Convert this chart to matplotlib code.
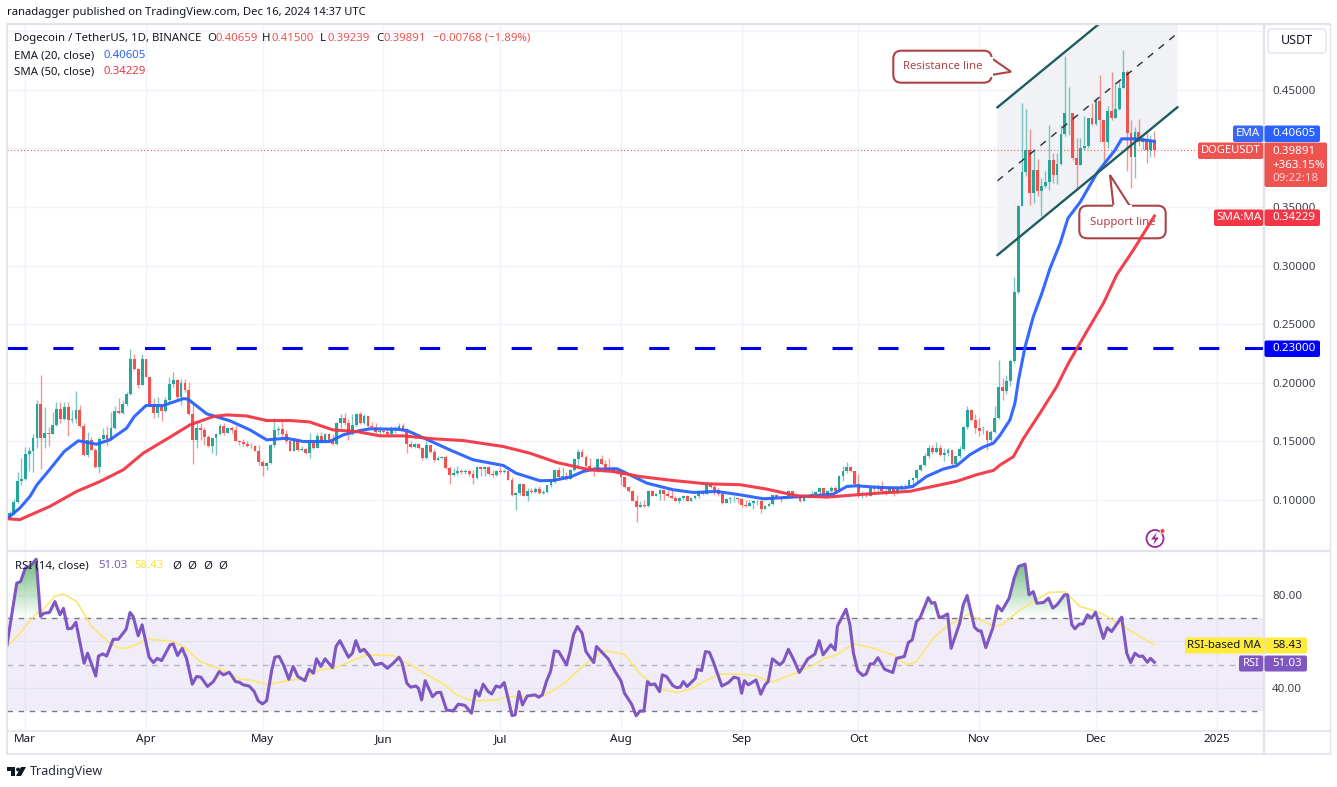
import numpy as np
import matplotlib
matplotlib.use('Agg')
import matplotlib.pyplot as plt
from matplotlib.patches import FancyBboxPatch, Polygon, Circle
from matplotlib.path import Path

W, H = 1337, 787
plt.rcParams['font.family'] = ['Noto Sans', 'DejaVu Sans']

# ---- daily candles, first candle is 26 Feb 2024 (day -4 counted from 1 Mar) ----
first_open = 0.0840
closes = [
.0888,.098,.1158,.1178,.1394,.142,.1533,.182,.1527,.157,.156,.164,.178,.169,.179,.1683,.169,.177,.1627,.138,.1512,.143,.128,.152,.1555,.152,.161,.176,.1745,.182,.1905,.2203,.2118,.198,.2203,.2047,.181,.1746,.179,.176,.185,.199,.2024,.1877,.1996,.194,.1735,.1513,.1612,.160,.154,.146,.1527,.156,.1627,.1575,.1612,.160,.1505,.1495,.148,.1462,.1458,.142,.1328,.129,.1315,.147,.160,.1605,.156,.150,.1422,.1513,.143,
.1435,.1399,.1485,.1442,.155,.149,.156,.1513,.1479,.1655,.1698,.1655,.157,.164,.1735,.1655,.1717,.1627,.162,.1584,.159,.1584,.156,.160,.1612,.1632,.159,.1476,.145,.1479,.144,.1357,.1471,.1408,.1337,.1362,.137,.1272,.1215,.1232,.1249,.1235,.1248,.1225,.1186,.128,.1263,.128,.1225,.1215,.1243,.1235,.1248,.1172,.1039,.1059,.1138,.1036,.1073,.1067,.1093,.106,.107,.1124,.115,.1252,.1195,.1205,.118,.1257,.135,.1413,.137,.129,
.1257,.1243,.1351,.1309,.1272,.1262,.1243,.1229,.1195,.111,.1078,.0993,.0939,.0959,.0945,.1073,.1036,.105,.1081,.1053,.1036,.1016,.0993,.1016,.1036,.0993,.1016,.1036,.1064,.105,.1138,.111,.1087,.1053,.0973,.1007,.1016,.1016,.1007,.0955,.0945,.0975,.0988,.0988,.0925,.095,.0968,.1042,.1024,.1016,.103,.1073,.1044,.103,.0993,.1024,.1036,.1053,.1064,.1101,.1053,.1078,.1101,.1073,.1206,.1243,.128,.1243,.1135,.103,.1036,.1033,
.1102,.1093,.1116,.1074,.1059,.1102,.1059,.1110,.1116,.1118,.1173,.1187,.1258,.1301,.1372,.1443,.1406,.1443,.1386,.14,.1429,.1306,.1372,.1437,.1619,.1764,.1679,.1613,.1585,.1588,.1508,.1579,.1698,.1963,.1926,.2017,.2187,.2778,
.3511,.3798,.3983,.3619,.3818,.3633,.3676,.371,.3903,.3775,.3869,.4122,.4301,.4305,.3917,.386,.4003,.402,.4258,.421,.4406,.4244,.4059,.4323,.4258,.4335,.4514,.4656,.4136,.393,.4139,.4059,.4079,.3985,.40659,.39891]
highs = [
.0902,.1007,.1238,.1357,.1456,.1456,.1564,.1854,.2067,.1797,.1621,.1754,.184,.1834,.1834,.1834,.1769,.193,.1808,.1655,.1584,.1536,.1442,.1541,.1612,.1627,.1749,.1805,.1868,.1854,.1925,.2288,.2246,.2124,.2246,.2203,.2047,.1868,.1877,.1811,.1882,.2053,.2095,.2033,.2030,.2030,.201,.1825,.1655,.1655,.1621,.1556,.1533,.157,.165,.1655,.1621,.1632,.1641,.1513,.1519,.15,.149,.147,.147,.1343,.1323,.1479,.1698,.1632,.1683,.1593,.1513,.1527,.1527,
.1462,.1442,.157,.1499,.157,.1584,.157,.157,.1564,.1663,.1735,.174,.169,.1735,.174,.1754,.1735,.1703,.1663,.1661,.1632,.1612,.1612,.1632,.1627,.1655,.1661,.1612,.1499,.149,.1485,.1456,.1499,.147,.1433,.1377,.1379,.1382,.1291,.1272,.1286,.1266,.1263,.1257,.1257,.1291,.1291,.1291,.1291,.1252,.1257,.128,.1263,.1257,.1195,.1064,.1144,.1138,.1101,.1101,.111,.1115,.1087,.113,.1172,.1257,.128,.128,.1235,.1263,.1362,.1436,.1433,.1385,
.1357,.1286,.1357,.1385,.1343,.1357,.1291,.1263,.1229,.12,.1121,.1087,.1039,.0988,.1002,.1081,.1087,.1059,.1093,.1073,.1087,.1087,.103,.1024,.1044,.1044,.1016,.1044,.1073,.1073,.1166,.1132,.1130,.1101,.1064,.1016,.1024,.103,.1016,.1016,.1002,.1002,.0996,.0996,.1002,.0959,.0979,.1047,.1047,.1036,.1036,.1081,.1064,.1059,.1044,.103,.1044,.1073,.1073,.1110,.1101,.1087,.1115,.1115,.1215,.1291,.1320,.1291,.1243,.1223,.1073,.1059,
.1116,.1130,.1139,.1159,.111,.1122,.1093,.1122,.113,.1139,.1179,.1196,.1264,.1309,.14,.1471,.1471,.1491,.1471,.1443,.1443,.1429,.1377,.1463,.1627,.1798,.1775,.1735,.1698,.1633,.1599,.1599,.1798,.2195,.2039,.2068,.2201,.2900,
.3515,.4386,.4335,.4164,.3983,.3909,.3747,.3804,.4201,.396,.396,.4201,.4789,.4528,.4301,.4088,.4088,.4281,.4258,.4386,.4429,.4627,.4244,.4358,.465,.4571,.4585,.484,.467,.4244,.4187,.425,.4096,.413,.4116,.41500]
lows = [
.084,.0874,.0973,.113,.1167,.1243,.1238,.1442,.1263,.1442,.1462,.157,.1627,.1655,.1683,.1547,.1655,.1655,.1621,.1377,.1365,.1428,.1272,.1229,.1513,.1462,.1513,.1607,.1735,.1735,.1805,.1896,.2109,.1953,.1982,.2047,.1811,.1703,.1706,.1678,.1754,.1840,.1967,.186,.1811,.1925,.1726,.1306,.1442,.1513,.147,.145,.14,.1385,.1556,.1556,.157,.157,.15,.147,.1462,.1456,.1442,.1414,.13,.1206,.1252,.1309,.1456,.1556,.1541,.149,.1422,.142,.1422,
.1422,.1391,.1357,.1433,.1442,.1485,.1485,.1507,.147,.147,.1612,.1641,.1513,.1556,.1627,.1646,.1646,.1621,.1612,.1564,.1556,.1575,.1556,.1556,.1575,.1598,.1584,.1399,.1442,.1442,.1433,.1337,.1348,.1399,.132,.1343,.1348,.1263,.1135,.1206,.1215,.1223,.1223,.1206,.1135,.1178,.1206,.1206,.1215,.12,.1206,.1223,.1229,.1167,.1036,.0917,.1044,.103,.0993,.1059,.1059,.1053,.105,.1059,.111,.1144,.1186,.1184,.1172,.1178,.1243,.1272,.1365,.128,
.1252,.1201,.1238,.1300,.1257,.1243,.1235,.1223,.1130,.1101,.1067,.0988,.0809,.0939,.0939,.0939,.103,.103,.0996,.0996,.1024,.1007,.0988,.0973,.0996,.0988,.0988,.1007,.1016,.1042,.1047,.1098,.1044,.1036,.0968,.0973,.0973,.0979,.0973,.0939,.0937,.0962,.0922,.0959,.0888,.0922,.0945,.0956,.1013,.0985,.1013,.1019,.1036,.1016,.0985,.0988,.1013,.1024,.103,.1036,.1044,.1044,.1064,.1064,.1073,.1166,.1229,.1235,.1130,.1024,.1016,.1024,
.1037,.1074,.1074,.1059,.1045,.1059,.1031,.1054,.1093,.1093,.1102,.111,.1165,.1244,.1287,.1358,.1395,.14,.1372,.133,.1377,.1281,.1301,.1358,.1429,.1608,.167,.157,.1542,.1565,.1423,.1485,.157,.169,.1855,.1906,.1974,.2173,
.2760,.3506,.3761,.3520,.3534,.3591,.342,.3662,.3648,.3704,.3699,.3861,.4108,.4116,.3903,.3648,.3861,.3988,.4003,.4201,.4201,.4059,.3875,.4003,.4244,.4258,.4329,.4514,.3804,.3662,.3747,.4017,.3988,.3875,.3926,.39239]

# ---- moving averages ----
ema_days = [-4.7,-1.4,1.2,3,6,10,13.6,18.3,21.7,26,28,31,35.4,40.6,41.8,46.6,52.6,57.7,62,67,71.4,78.2,81.7,86,88.5,95.4,98,103,109,115,122.8,126,132.2,135.6,139.9,143.3,146,152,156.2,159.6,166.4,171.6,177.6,183.6,189.6,197,202.4,207.5,211,213.5,219.5,225.5,228,231.5,235.8,239.2,242.6,246,248.7,250.4,252.9,254.2,255.1,256.8,258.9,261.1,263.2,265.8,267.8,271,275.2,279.9,281.6,285.4,290]
ema_vals = [.084,.0931,.103,.113,.1249,.1414,.1505,.1476,.1513,.1612,.1712,.1806,.1806,.1865,.186,.1735,.1675,.1598,.1513,.1527,.1499,.1499,.1556,.1593,.1607,.1604,.1593,.1519,.1428,.1343,.1294,.1229,.1164,.1167,.1195,.1243,.1263,.1266,.12,.1144,.1087,.1064,.1073,.1044,.101,.1024,.1036,.105,.1115,.1121,.1107,.1102,.1116,.1201,.1264,.1292,.1386,.1451,.1485,.1555,.1683,.1828,.2024,.2308,.2564,.2764,.2977,.319,.3404,.3545,.3788,.3986,.4082,.4082,.40605]
sma_days = [-4.7,-1.4,2.05,6.3,13.2,19.2,25.2,30.3,36.3,42.3,48.3,51.7,56.8,62,68,73,79,85.1,91.1,97,104.8,112.5,122.8,129.6,136.5,145,151,157.9,166.4,175,183.6,190.4,198.1,205.8,213.5,219.5,227.2,234,239.2,244.4,248.7,250.4,253.8,256.4,260.6,264.9,267.9,272.6,276.9,280.3,284.6,290]
sma_vals = [.084,.0832,.0883,.0945,.1073,.1158,.1258,.14,.1519,.1641,.1712,.1726,.1717,.1678,.1678,.1666,.1598,.1584,.1547,.1547,.1522,.1507,.1456,.1399,.132,.1257,.1243,.12,.1166,.1138,.113,.1093,.1036,.1024,.1044,.1059,.1074,.1122,.1159,.1216,.1253,.1299,.137,.1526,.174,.1967,.2166,.2436,.2678,.292,.3133,.34229]

# ---- RSI and its moving average ----
rsi_days = [-4.7,-2.2,-1.2,0,1.2,2.8,3.9,4.8,6.2,7.6,8.9,9.8,10.9,11.9,13,15.1,16,18.1,18.8,19.9,20.9,22.6,23.9,25.9,26.9,27.7,29,30,31.8,32.9,33.9,35,37.2,38,39.1,40.3,41.4,42.9,44,45.1,46.8,48.3,49.8,50.9,52.4,54,55,56,57.5,58.8,59.8,60.9,62,63.3,64.1,65.2,66.3,67.7,68.8,70,71.8,72.9,74,74.8,75.9,77,78.9,79.8,80.8,83,84,84.9,86,87,88.5,89.8,91.5,93,94.5,96,96.8,98,99,100.3,101,101.8,102.7,104.6,105.7,106.7,108.2,109.9,111.2,112.9,114.6,115.7,116.6,117.6,118.9,119.8,120.9,122,123,124,125,125.8,126.8,127.7,128.9,130.9,131.9,132.8,133.9,134.9,135.9,137,139,139.9,140.8,141.8,143,144,146,146.7,148.5,149.7,151.5,153,153.9,155.7,156.9,157.9,158.9,159.8,160.6,161.7,162.9,163.6,164.7,166.3,167.3,168.2,169,170,172.1,172.6,173.7,174.7,175.7,176.7,178.9,180.6,182,183.2,184,184.7,185.7,187.7,188.9,190,190.8,191.9,193.8,194.7,196,197.4,198.8,199.8,201,202.8,203.9,204.9,206.9,208,208.6,210.8,211.8,212.7,213.8,215.1,216,217,217.9,219,220.7,222.8,223.8,225.8,226.8,227.8,228.9,229.8,231.9,232.8,233.6,234.7,235.8,236.9,237.8,240,240.9,241.9,243.8,244.8,245.5,246.7,248.5,249.7,250.8,252.7,254,255.1,256.8,257.8,258.9,259.8,261.5,262.8,263.9,265,266.9,267.7,268.8,269.6,270.7,271.7,272.8,273.9,274.9,276.9,277.9,279,281.6,282.9,283.9,285,286.1,287,288.2,289,290]
rsi_vals = [58.5,85,85.7,91.5,92.2,95.3,70.7,72.1,72.4,77.1,71.4,74.2,65.4,65.6,68.2,50.6,54.9,45.1,53.7,54.6,53.7,60.9,60.9,65.2,72.4,70.7,62.4,67.1,53.2,50.9,52.7,51.7,58.5,58.9,53.9,57,52.7,41.6,44.9,44.6,40.6,42.7,47,45.6,46.7,42.7,42.4,41.3,40.8,38.4,34.5,33.1,34.5,47.7,53.2,53.5,49.9,43.7,49.2,44.9,43.1,48,46.3,52.5,49.2,52.5,48.7,57.8,60.3,53.2,54.9,60.3,55.6,56.6,53.5,49.9,50.6,48.4,50.6,53.2,50.6,42,40.3,40.8,39.8,34.8,43.1,36.2,38,38.1,30.5,30.1,33,32.5,29.1,38.9,36.5,41.6,38.4,37.4,40.8,40.3,42.3,35.5,28.1,28.4,38.4,32.7,36.5,37,36,37,43,47,55.9,55.6,49.9,55.6,62.8,66.4,63.5,55.6,50.9,57.8,54.6,52.5,47,43,37.7,33.1,28,30.1,30,42.7,41.3,41.7,38.4,45.6,44.9,41,40.1,40.3,42.7,40.6,44.1,48,47.4,55.6,55.3,51.3,40.8,42.3,44.6,44.1,37.7,43.1,41.3,43.4,37.3,41.3,42.7,52.5,49.9,51.3,56.6,52,46.6,49.2,52.5,54.5,60.3,54.2,58.5,56.3,66.6,73.8,67.1,54.9,47.4,45.3,46,50.3,50.3,53,48,46.6,52.7,53.5,59.5,60.6,68.5,70,78.8,76.4,76.7,70.2,70.7,71.8,57,67.8,75.7,79.7,66.1,64.5,64.5,57.3,65.7,75.3,73.1,78.6,87.2,92.2,93.2,80,81.4,76.4,76.7,78.6,74.3,75.7,80,80,67.1,65.4,67.4,67.5,71.4,70,72.5,61.3,65.9,64.2,70.4,54.9,50.9,54.9,53.5,53.7,51,52.7,51.03]
rsi_ma_days = [-4.7,-1.4,2.5,4.6,7.6,9.8,13.2,17,21.7,24.3,26.5,31.6,38,40.6,44.9,51.7,55.1,58.6,62.4,66.3,71.4,75.7,79.1,83.4,87.7,94.5,99.7,104.8,108,110.8,115.1,121,123.6,127,133,136.5,139,143.5,148.6,153.7,157.9,162.3,167.5,170.9,174.3,178.2,182.8,188,191.4,197.3,202.4,205,208.4,212.7,217.9,222.9,226.4,228.9,233.2,236.7,240,242.2,245.2,248.7,250.8,255.5,262.8,267.1,270.9,274.8,277.8,282,286.3,290]
rsi_ma_vals = [57.8,63.5,71.4,73.8,79.3,80.4,77.1,66.4,59.2,57,57.3,61,59.9,57.8,51.3,47,43.8,43.1,41.3,42.7,44.1,47.7,48.4,51.3,54.2,53.9,49.2,44.1,41,37,34.4,34.8,36.2,36.2,36.5,39.8,42.7,49.9,56,54.6,46.3,39.8,38,39.6,42.7,45.9,45.9,45.1,42.3,46,49.6,52.5,54.2,58.9,57,54.2,49.9,51.3,61.3,66.6,69.2,71.8,69.2,66.6,67.1,73.5,81,81.3,75,73.1,70.7,66.4,62.1,58.43]

# ---- axis labels and levels ----
month_days = [0,31,61,92,122,153,184,214,245,275,306]
month_labels = ['Mar','Apr','May','Jun','Jul','Aug','Sep','Oct','Nov','Dec','2025']
price_ticks = [0.10,0.15,0.20,0.25,0.30,0.35,0.45]
price_grid = [0.10,0.15,0.20,0.25,0.30,0.35,0.40,0.45,0.50]
key_level = 0.23
last_close = 0.39891

for n, a in (('highs', highs), ('lows', lows)):
    if len(a) != len(closes):
        raise ValueError(f'{n} {len(a)} vs closes {len(closes)}')

UP, DOWN = '#26a69a', '#ef5350'
GRID = '#f0f3fa'
BORDER = '#e0e3eb'
TXT = '#131722'

fig = plt.figure(figsize=(W/100, H/100), dpi=100, facecolor='white')

def pane(x0, y0, x1, y1, **kw):
    return fig.add_axes([x0/W, 1-y1/H, (x1-x0)/W, (y1-y0)/H], **kw)

ax = pane(7, 24, 1263, 550)
ar = pane(7, 552, 1263, 730)
XL = (-4.7, 317.9)

c = np.array(closes)
o = np.r_[first_open, c[:-1]]
h = np.maximum(np.maximum(highs, o), c)
l = np.minimum(np.minimum(lows, o), c)
days = np.arange(len(c)) - 4
cols = np.where(c >= o, UP, DOWN)

ax.set_xlim(*XL)
ax.set_ylim(0.0573, 0.5062)
ar.set_xlim(*XL)
ar.set_ylim(21.9, 98.4)

for a in (ax, ar):
    a.set_axisbelow(True)
    for s in a.spines.values():
        s.set_visible(False)
    a.set_xticks(month_days)
    a.grid(True, color=GRID, lw=1)
    a.yaxis.tick_right()
    a.tick_params(length=0, colors='#3b3f4a', labelsize=8.3)

ax.set_yticks(price_grid)
ax.set_yticklabels([f'{v:.5f}' if v in price_ticks else '' for v in price_grid])
ax.tick_params(axis='y', pad=6.5)
ax.set_xticklabels([])

# channel (drawn under the candles)
chan_x = [249.7, 295.9]
ax.fill([249.7, 249.7, 275.6, 295.9, 295.9], [.309, .4351, .5062, .5062, .4351],
        color='#f0f2f5', lw=0, zorder=1)

ax.vlines(days, l, h, colors=cols, lw=1.0, alpha=0.6, zorder=2)
ax.bar(days, c-o, bottom=o, width=0.72, color=cols, lw=0, zorder=3)

ax.plot(ema_days, ema_vals, color='#2962ff', lw=2.2, alpha=.95, zorder=5, solid_joinstyle='round')
ax.plot(sma_days, sma_vals, color='#f23645', lw=2.2, alpha=.95, zorder=5, solid_joinstyle='round')

ax.plot(XL, [key_level]*2, color='#0000f0', lw=2.2, ls=(0, (6.6, 8.4)), dash_capstyle='butt', zorder=4)
ax.plot(XL, [last_close]*2, color=DOWN, lw=0.8, ls=(0, (1, 2)), zorder=4)

ax.plot(chan_x, [.309, .4351], color='#1f5c60', lw=1.7, zorder=6)
ax.plot(chan_x, [.4351, .5612], color='#1f5c60', lw=1.7, zorder=6)
ax.plot(chan_x, [.3724, .4982], color='#2b2f36', lw=1.0, ls=(0, (5, 5)), zorder=6)

# RSI pane
ar.set_yticks([40, 60, 80])
ar.set_yticklabels(['40.00', '', '80.00'])
ar.tick_params(axis='y', pad=6.5)
ar.set_xticklabels(month_labels)
for t, lab in zip(ar.get_xticklabels(), month_labels):
    t.set_color(TXT)
    t.set_fontsize(8.4)
    if lab == '2025':
        t.set_fontweight('bold')
ar.tick_params(axis='x', pad=3)

ar.axhspan(30, 70, color='#7e57c2', alpha=0.1, lw=0, zorder=1)
ar.axhline(70, color='#787b86', lw=1, ls=(0, (4, 4)), zorder=2)
ar.axhline(50, color='#787b86', lw=1, alpha=.5, ls=(0, (4, 4)), zorder=2)
ar.axhline(30, color='#787b86', lw=1, ls=(0, (4, 4)), zorder=2)

rd, rv = np.array(rsi_days), np.array(rsi_vals)
poly = ar.fill_between(rd, 70, rv, where=rv > 70, interpolate=True, color='none', lw=0)
grad = np.zeros((100, 2, 4))
grad[..., 0], grad[..., 1], grad[..., 2] = 0.18, 0.62, 0.25
grad[..., 3] = np.linspace(0.75, 0, 100)[:, None]
im = ar.imshow(grad, extent=(XL[0], XL[1], 70, 97), origin='upper', aspect='auto', zorder=2.5)
im.set_clip_path(Path.make_compound_path(*poly.get_paths()), transform=ar.transData)
ar.set_xlim(*XL)
ar.set_ylim(21.9, 98.4)

ar.plot(rsi_ma_days, rsi_ma_vals, color='#fbe772', lw=1.2, zorder=3)
ar.plot(rd, rv, color='#7e57c2', lw=2.2, zorder=4, solid_joinstyle='round')

# ---- overlay in pixel coordinates: frame, labels, callouts ----
ov = fig.add_axes([0, 0, 1, 1], zorder=10)
ov.set_xlim(0, W)
ov.set_ylim(H, 0)
ov.axis('off')
ov.patch.set_alpha(0)

def L(x, y, col=BORDER, lw=1.0):
    ov.plot(x, y, color=col, lw=lw, solid_capstyle='butt')

L([6, 1330], [23.5, 23.5], lw=1.6)
L([6, 1330], [753.5, 753.5], lw=1.2)
L([6.5, 6.5], [23, 754], lw=1.2)
L([1330, 1330], [23, 754], lw=1.0)
L([1263.7, 1263.7], [23, 754], lw=1.6)
L([6, 1330], [550.5, 550.5], lw=1.6)
L([6, 1330], [730.5, 730.5], lw=1.2)

def T(x, y, s, col=TXT, fs=8.2, ha='left', **kw):
    return ov.text(x, y, s, color=col, fontsize=fs, ha=ha, va='center', **kw)

T(7, 12, 'ranadagger published on TradingView.com, Dec 16, 2024 14:37 UTC', fs=8.1)
T(14, 38.5, 'Dogecoin / TetherUS, 1D, BINANCE')
for x, xv, a, val in ((207, 216, 'O', '0.40659'), (262, 271, 'H', '0.41500'), (320, 327, 'L', '0.39239'), (376, 384, 'C', '0.39891')):
    T(x, 38.5, a)
    T(xv, 38.5, val, col=DOWN)
T(433, 38.5, '−0.00768 (−1.89%)', col=DOWN)
T(14, 55.5, 'EMA (20, close)')
T(103, 55.5, '0.40605', col='#2962ff')
T(14, 72, 'SMA (50, close)')
T(103, 72, '0.34229', col='#f23645')
T(15, 566, 'RSI (14, close)')
T(98, 566, '51.03', col='#7e57c2')
T(134, 566, '58.43', col='#fbe43c')
for x in (172, 187, 203, 218):
    T(x, 566, 'Ø')

def badge(x0, x1, y0, y1, col, s=None, tc='white', x=None, fs=8.3):
    ov.add_patch(FancyBboxPatch((x0+1, y0+1), x1-x0-2, y1-y0-2, boxstyle='round,pad=1,rounding_size=2',
                                fc=col, ec='none', zorder=3))
    if s:
        ov.text((x0+x1)/2 if x is None else x, (y0+y1)/2, s, color=tc, fontsize=fs, ha='center' if x is None else 'left',
                va='center', zorder=4)

badge(1233, 1263.2, 125.5, 142, '#3868f5', 'EMA')
badge(1264.5, 1320, 125.5, 142, '#2962ff', '0.40605', x=1272)
badge(1198, 1263.2, 142.5, 159, DOWN, 'DOGEUSDT', fs=8.0)
badge(1264.5, 1327, 142.5, 187, DOWN)
ov.text(1272, 151, '0.39891', color='white', fontsize=8.3, va='center', zorder=4)
ov.text(1272, 165, '+363.15%', color='white', fontsize=8.3, va='center', zorder=4)
ov.text(1272, 178.5, '09:22:18', color='#fbd3d2', fontsize=8.3, va='center', zorder=4)
badge(1214, 1263.2, 209.5, 226, '#f23645', 'SMA:MA')
badge(1264.5, 1320, 209.5, 226, '#f23645', '0.34229', x=1272)
badge(1264.5, 1320, 340.5, 357, '#0000ff', '0.23000', x=1272)
badge(1185, 1263.2, 637.5, 653.5, '#ffeb3b', 'RSI-based MA', tc=TXT, fs=8.2)
badge(1264.5, 1307, 637.5, 653.5, '#ffeb3b', '58.43', tc=TXT, x=1272)
badge(1239, 1263.2, 655.5, 671.5, '#7e57c2', 'RSI', fs=8.0)
badge(1264.5, 1307, 655.5, 671.5, '#7e57c2', '51.03', x=1272)

ov.add_patch(FancyBboxPatch((1269, 30), 56, 22, boxstyle='round,pad=1,rounding_size=4', fc='white', ec=BORDER, lw=1, zorder=3))
T(1296.5, 41, 'USDT', ha='center', fs=9.0, zorder=4)

# callouts
CO = '#ad4346'
def callout(ax_, x0, y0, x1, y1, tail, text, zb):
    tr = ov.transData
    ax_.add_patch(FancyBboxPatch((x0, y0), x1-x0, y1-y0, boxstyle='round,pad=0,rounding_size=8', fc='white',
                                 ec=CO, lw=1.5, transform=tr, clip_on=False, zorder=zb))
    ax_.add_patch(Polygon(tail, closed=False, fc='white', ec=CO, lw=1.5, transform=tr, clip_on=False, zorder=zb+.1))
    a_, b_ = tail[0], tail[-1]
    ax_.plot([a_[0], b_[0]], [a_[1], b_[1]], color='white', lw=2.2, transform=tr, clip_on=False, zorder=zb+.2)
    ax_.text((x0+x1)/2, (y0+y1)/2, text, color=CO, fontsize=8.2, ha='center', va='center', transform=tr,
             clip_on=False, zorder=zb+.3)

callout(ax, 893.3, 50.7, 991.7, 82.7, [(991.2, 58), (1011, 71.7), (991.2, 75)], 'Resistance line', 4.2)
callout(ax, 1079.3, 205.7, 1165.7, 238.3, [(1113.5, 206.2), (1110, 175), (1130, 206.2)], 'Support line', 4.2)

# lightning badge
ov.add_patch(Circle((1155, 538.5), 8.5, fc='white', ec='#9c2b8f', lw=1.3))
ov.add_patch(Polygon([(1157, 532), (1151, 539.5), (1155, 539.5), (1153, 545), (1159, 537.5), (1155, 537.5)], fc='#9c2b8f', ec='none'))
ov.add_patch(Circle((1162.5, 531), 2.4, fc='#f23645', ec='white', lw=.6))

# TradingView logo
ov.add_patch(Polygon([(7, 767), (15, 767), (15, 776), (11, 776), (11, 771), (7, 771)], fc=TXT, ec='none'))
ov.add_patch(Circle((18, 769.5), 1.9, fc=TXT, ec='none'))
ov.add_patch(Polygon([(21, 767), (26, 767), (21, 776), (16, 776)], fc=TXT, ec='none'))
T(30, 771.5, 'TradingView', fs=9.0, col='#2a2e39', fontweight='medium')

fig.savefig('out.png', dpi=100, facecolor='white')
